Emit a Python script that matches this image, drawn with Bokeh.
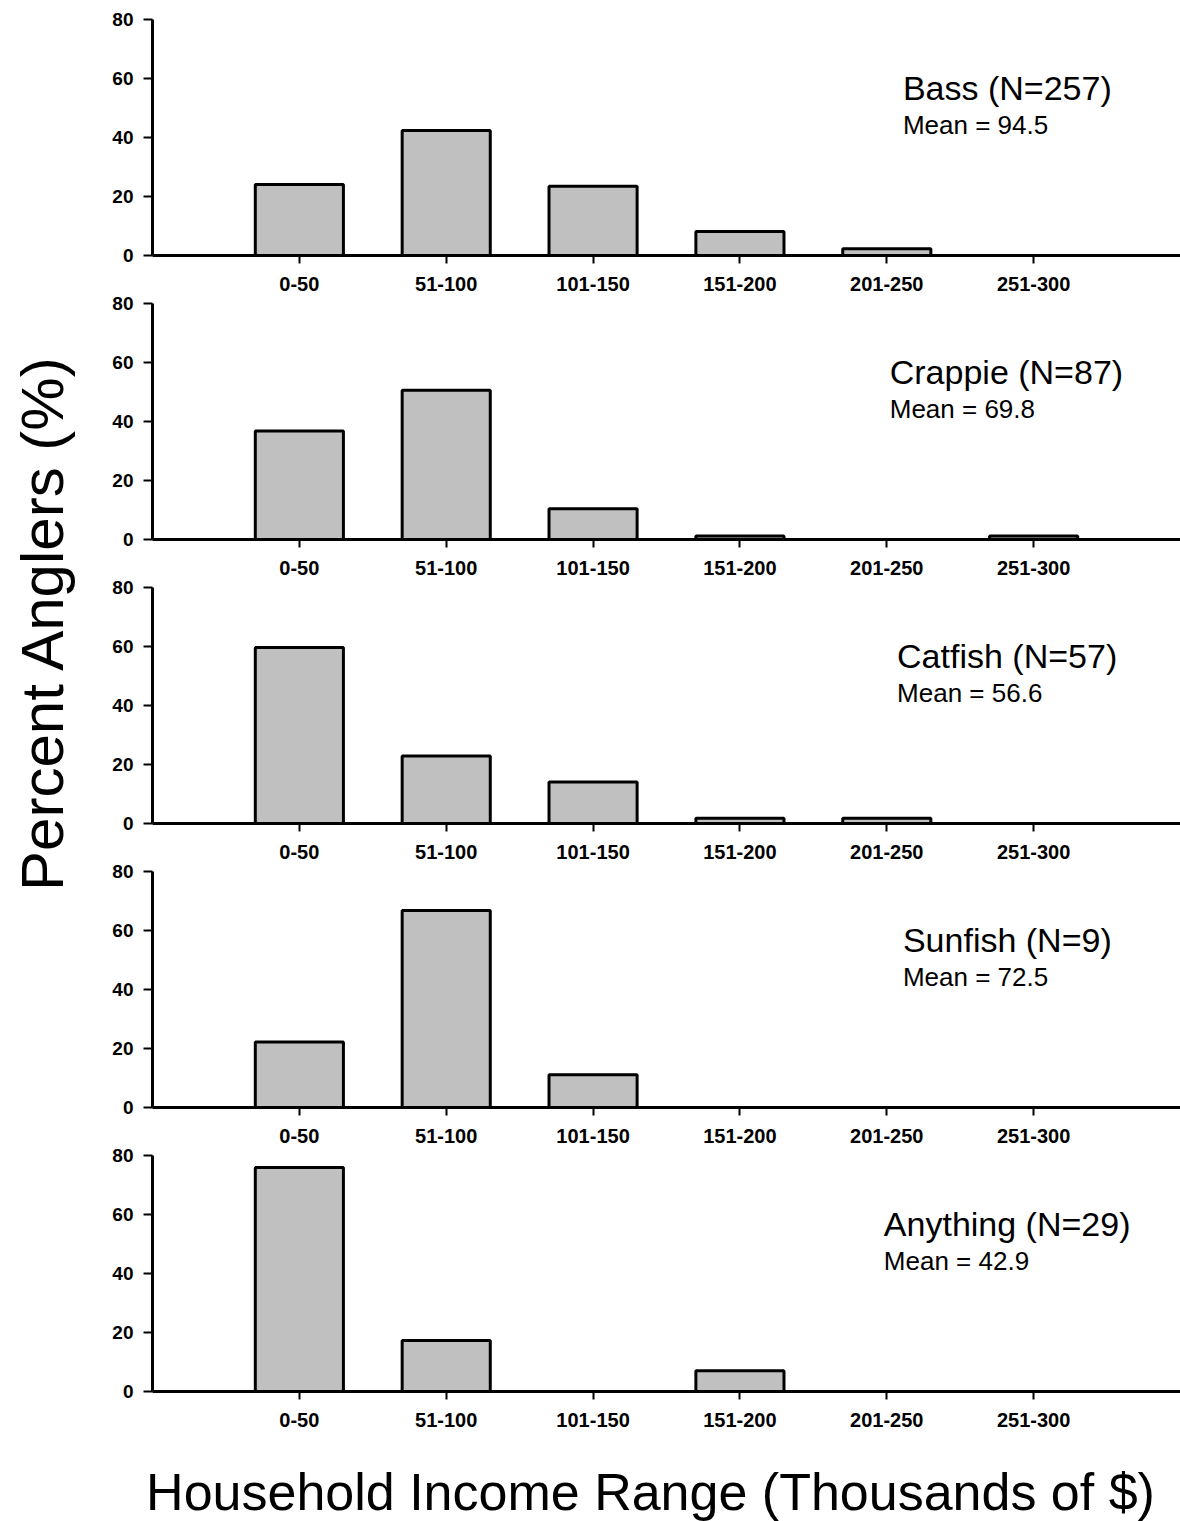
import math
from bokeh.plotting import figure
from bokeh.layouts import column, row
from bokeh.models import Range1d, FixedTicker, Label, ColumnDataSource
from bokeh.embed import file_html
from bokeh.resources import INLINE

# ---------------- data ----------------
categories = ["0-50", "51-100", "101-150", "151-200", "201-250", "251-300"]
species = ["Bass", "Crappie", "Catfish", "Sunfish", "Anything"]
sample_sizes = [257, 87, 57, 9, 29]
mean_income = [94.5, 69.8, 56.6, 72.5, 42.9]
bass = [24.1, 42.4, 23.5, 8.1, 2.3, 0.0]
crappie = [36.8, 50.6, 10.4, 1.2, 0.0, 1.2]
catfish = [59.7, 22.9, 14.1, 1.8, 1.8, 0.0]
sunfish = [22.2, 66.8, 11.1, 0.0, 0.0, 0.0]
anything = [75.9, 17.3, 0.0, 7.0, 0.0, 0.0]
y_ticks = [0, 20, 40, 60, 80]
y_title = "Percent Anglers (%)"
x_title = "Household Income Range (Thousands of $)"

series = [bass, crappie, catfish, sunfish, anything]

# ---------------- layout / style constants ----------------
FONT = "Liberation Sans"
LEFT_W = 78          # width of the strip holding the y title
PANEL_W = 1102
BORDER_LEFT = 74
FRAME_H = 236
BORDER_BOTTOM = 38
X_END = 7.0
label_x = [5.11, 5.02, 5.07, 5.11, 4.98]   # left edge of the per-panel titles (data x)
TITLE_Y = 56.9
MEAN_Y = 44.2

positions = [i + 1 for i in range(len(categories))]

panels = []
for k, (name, n, m, vals) in enumerate(zip(species, sample_sizes, mean_income, series)):
    top_border = 19 if k == 0 else 10
    p = figure(width=PANEL_W, height=top_border + FRAME_H + BORDER_BOTTOM,
               x_range=Range1d(0, X_END), y_range=Range1d(0, 80),
               output_backend="svg", toolbar_location=None,
               min_border_left=BORDER_LEFT, min_border_right=0,
               min_border_top=top_border, min_border_bottom=BORDER_BOTTOM)
    p.outline_line_color = None
    p.grid.visible = False
    p.background_fill_color = "white"
    p.border_fill_color = "white"

    src = ColumnDataSource(dict(x=positions, top=vals))
    p.vbar(x="x", top="top", bottom=0, width=0.6, source=src,
           fill_color="#c0c0c0", line_color="black", line_width=3)

    xa = p.xaxis[0]
    xa.ticker = FixedTicker(ticks=positions)
    xa.major_label_overrides = {pos: c for pos, c in zip(positions, categories)}
    xa.axis_line_width = 3
    xa.axis_line_color = "black"
    xa.major_tick_line_width = 2
    xa.major_tick_out = 8
    xa.major_tick_in = 0
    xa.minor_tick_line_color = None
    xa.major_label_standoff = 13
    xa.major_label_text_font = FONT
    xa.major_label_text_font_style = "bold"
    xa.major_label_text_font_size = "20px"
    xa.major_label_text_color = "black"

    ya = p.yaxis[0]
    ya.ticker = FixedTicker(ticks=y_ticks)
    ya.axis_line_width = 3
    ya.axis_line_color = "black"
    ya.major_tick_line_width = 2
    ya.major_tick_out = 9
    ya.major_tick_in = 0
    ya.minor_tick_line_color = None
    ya.major_label_standoff = 10
    ya.major_label_text_font = FONT
    ya.major_label_text_font_style = "bold"
    ya.major_label_text_font_size = "19px"
    ya.major_label_text_color = "black"

    p.add_layout(Label(x=label_x[k], y=TITLE_Y, text=f"{name} (N={n})",
                       text_font=FONT, text_font_size="34px",
                       text_align="left", text_baseline="middle", text_color="black"))
    p.add_layout(Label(x=label_x[k], y=MEAN_Y, text=f"Mean = {m}",
                       text_font=FONT, text_font_size="26px",
                       text_align="left", text_baseline="middle", text_color="black"))
    panels.append(p)

total_panels_h = sum(pp.height for pp in panels)

# y title strip
ly = figure(width=LEFT_W, height=total_panels_h,
            x_range=Range1d(0, LEFT_W), y_range=Range1d(total_panels_h, 0),
            x_axis_type=None, y_axis_type=None,
            output_backend="svg", toolbar_location=None,
            min_border=0)
ly.outline_line_color = None
ly.grid.visible = False
ly.add_layout(Label(x=42, y=622, text=y_title, angle=math.pi / 2,
                    text_font=FONT, text_font_size="60px",
                    text_align="center", text_baseline="middle", text_color="black"))

# x title strip
BOTTOM_H = 1521 - total_panels_h
bx = figure(width=LEFT_W + PANEL_W, height=BOTTOM_H,
            x_range=Range1d(0, LEFT_W + PANEL_W), y_range=Range1d(BOTTOM_H, 0),
            x_axis_type=None, y_axis_type=None,
            output_backend="svg", toolbar_location=None,
            min_border=0)
bx.outline_line_color = None
bx.grid.visible = False
bx.add_layout(Label(x=650, y=62, text=x_title,
                    text_font=FONT, text_font_size="52px",
                    text_align="center", text_baseline="middle", text_color="black"))

layout = column(row(ly, column(*panels)), bx)

with open("out.html", "w") as f:
    f.write(file_html(layout, INLINE))
